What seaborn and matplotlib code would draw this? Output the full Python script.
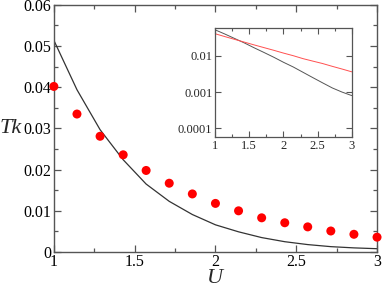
import numpy as np
import pandas as pd
import matplotlib
matplotlib.use("Agg")
import matplotlib.pyplot as plt
import seaborn as sns
from matplotlib.ticker import MultipleLocator, FixedLocator, NullLocator

# Data
U_pts = [1.0, 1.143, 1.286, 1.429, 1.571, 1.714, 1.857, 2.0, 2.143, 2.286, 2.429, 2.571, 2.714, 2.857, 3.0]
tk_dots = [0.0402, 0.0335, 0.0281, 0.0236, 0.0198, 0.0167, 0.0141, 0.0118, 0.0100, 0.0083,
           0.0071, 0.0061, 0.0051, 0.0043, 0.0036]
tk_line = [0.0514, 0.0394, 0.0297, 0.0224, 0.0165, 0.0123, 0.0091, 0.0066, 0.0049, 0.0035,
           0.0025, 0.0018, 0.0013, 0.0010, 0.0008]
main_xticks = [1, 1.5, 2, 2.5, 3]
main_xticklabels = ["1", "1.5", "2", "2.5", "3"]
main_yticks = [0, 0.01, 0.02, 0.03, 0.04, 0.05, 0.06]
main_yticklabels = ["0", "0.01", "0.02", "0.03", "0.04", "0.05", "0.06"]
inset_yticks = [0.0001, 0.001, 0.01]
inset_yticklabels = ["0.0001", "0.001", "0.01"]

df = pd.DataFrame({"U": U_pts, "dots": tk_dots, "line": tk_line})

sns.set_theme(style="ticks")
plt.rcParams["font.family"] = ["Liberation Serif", "DejaVu Serif"]

frame = "#555555"

fig = plt.figure(figsize=(3.82, 2.88), dpi=100)
ax = fig.add_axes([0.141, 0.125, 0.846, 0.858])

sns.lineplot(data=df, x="U", y="line", ax=ax, color="#333333", linewidth=0.9)
sns.scatterplot(data=df, x="U", y="dots", ax=ax, color="#ff0000", s=42, edgecolor="none", zorder=5, clip_on=False)

ax.set_xlim(1, 3)
ax.set_ylim(0, 0.06)
ax.set_xticks(main_xticks)
ax.set_xticklabels(main_xticklabels)
ax.set_yticks(main_yticks)
ax.set_yticklabels(main_yticklabels)
ax.xaxis.set_minor_locator(MultipleLocator(0.25))
ax.yaxis.set_minor_locator(MultipleLocator(0.005))
ax.tick_params(which="both", direction="in", top=True, right=True, color=frame,
               labelsize=11.5, pad=2, labelcolor="black")
ax.tick_params(axis="x", which="both", pad=1.5)
ax.tick_params(which="major", length=5, width=0.9)
ax.tick_params(which="minor", length=3, width=0.9)
for s in ax.spines.values():
    s.set_color(frame)
    s.set_linewidth(1.0)
ax.set_xlabel("U", fontsize=16, fontstyle="italic", va="bottom", ha="center")
ax.xaxis.set_label_coords(0.5, -0.145)
ax.set_ylabel("Tk", fontsize=16, fontstyle="italic", rotation=0, va="center", ha="center")
ax.yaxis.set_label_coords(-0.133, 0.5)

# Inset
ax2 = fig.add_axes([0.563, 0.525, 0.358, 0.379])
sns.lineplot(data=df, x="U", y="line", ax=ax2, color="#555555", linewidth=0.7)
sns.lineplot(data=df, x="U", y="dots", ax=ax2, color="#ff5050", linewidth=0.7)
ax2.set_yscale("log")
ax2.set_xlim(1, 3)
ax2.set_ylim(5.9e-5, 0.059)
ax2.set_xticks(main_xticks)
ax2.set_xticklabels(main_xticklabels)
ax2.yaxis.set_major_locator(FixedLocator(inset_yticks))
ax2.set_yticklabels(inset_yticklabels)
ax2.yaxis.set_minor_locator(NullLocator())
ax2.xaxis.set_minor_locator(MultipleLocator(0.25))
ax2.tick_params(which="both", direction="in", top=True, right=True, color=frame,
                labelsize=9, pad=2)
ax2.tick_params(which="major", length=4, width=0.8)
ax2.tick_params(which="minor", length=2, width=0.8)
for s in ax2.spines.values():
    s.set_color(frame)
    s.set_linewidth(0.9)
ax2.set_xlabel("")
ax2.set_ylabel("")

fig.savefig("out.png", dpi=100)
